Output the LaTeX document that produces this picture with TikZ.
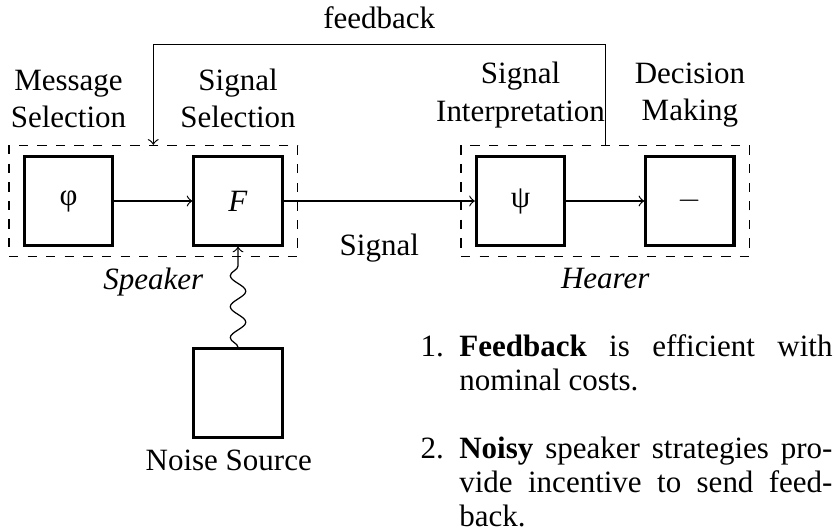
\documentclass[tikz,border=0pt]{standalone}
\usepackage{fontspec}
\setmainfont{Liberation Serif}
\usepackage{enumitem}
\usetikzlibrary{fit,decorations.pathmorphing}

\tikzset{
	blockbox/.style={draw, line width=1pt, minimum size=1cm, inner sep=0pt},
	groupbox/.style={draw, dashed, inner xsep=4.5pt, inner ysep=3.2pt},
	steplabel/.style={align=center, anchor=south, yshift=2pt}
}

\begin{document}
\begin{tikzpicture}
	\useasboundingbox (-0.777,2.279) rectangle (8.691,-3.753);

	\node[blockbox](phi) at (0,0) {φ};
	\node[blockbox](F) at (1.922,0) {\textit{F}};
	\node[blockbox](psi) at (5.125,0) {ψ};
	\node[blockbox](dec) at (7.046,0) {$-$};
	\node[blockbox](noise) at (1.922,-2.177) {};

	\node[groupbox, fit=(phi)(F)](speaker) {};
	\node[groupbox, fit=(psi)(dec)](hearer) {};
	\node[below] at (speaker.south) {\textit{Speaker}};
	\node[below] at (hearer.south) {\textit{Hearer}};
	\node[below, xshift=-3pt] at (noise.south) {Noise Source};

	\node[steplabel] at (phi |- speaker.north) {Message\\Selection};
	\node[steplabel] at (F |- speaker.north) {Signal\\Selection};
	\node[steplabel] at (psi |- hearer.north) {Signal\\Interpretation};
	\node[steplabel] at (dec |- hearer.north) {Decision\\Making};

	\draw[->](phi) -- (F);
	\draw[->](F) -- (psi) node[midway, below=7pt] {Signal};
	\draw[->](psi) -- (dec);
	\draw[->](hearer.north) -- ++(0,1.134) -| (speaker.north) node[pos=0.25, above=1.5pt] {feedback};
	\draw[->, decorate, decoration={snake, post length=2pt}](noise) -- (F);

	\node[anchor=north west, inner sep=0pt, text width=132.9pt, align=justify](notes) at (3.985,-1.367) {\fontsize{10}{11}\selectfont
		\begin{enumerate}[leftmargin=*, topsep=0pt, partopsep=0pt, parsep=0pt, itemsep=11pt]
			\item \textbf{Feedback} is efficient with\linebreak nominal costs.
			\item \textbf{Noisy} speaker strategies pro-\linebreak vide incentive to send feed-\linebreak back.
		\end{enumerate}};
\end{tikzpicture}
\end{document}
